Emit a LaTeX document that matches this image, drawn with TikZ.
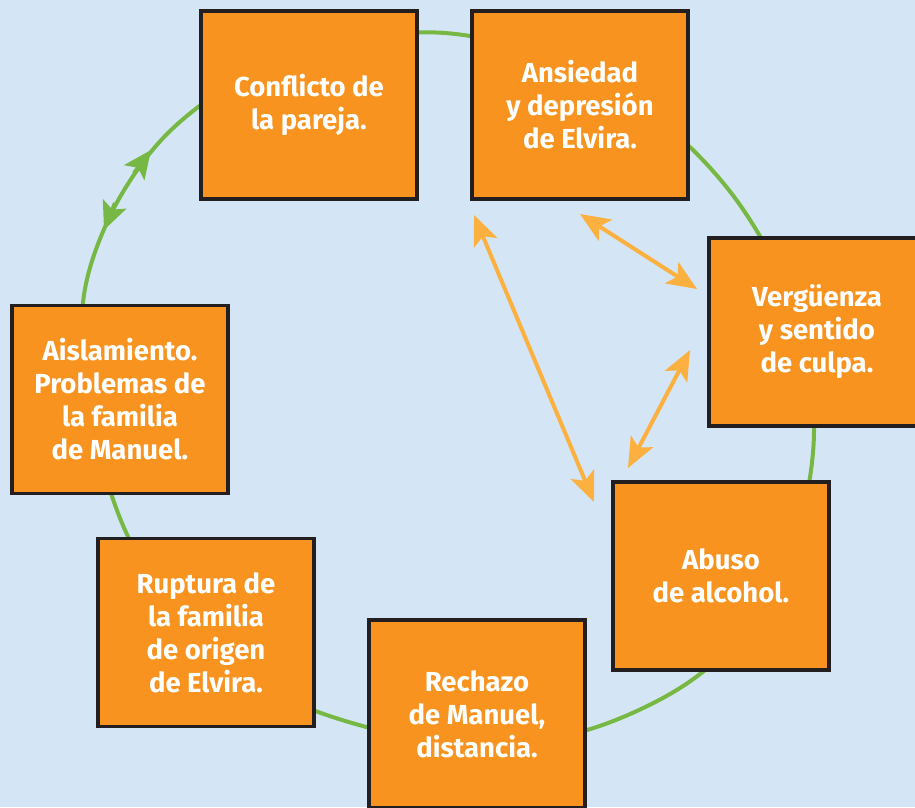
\documentclass[tikz,border=0pt]{standalone}
\usepackage{fontspec}
\setmainfont{Fira Sans}
\usetikzlibrary{arrows.meta}
\definecolor{bg}{HTML}{D4E6F5}
\definecolor{boxfill}{HTML}{F7931E}
\definecolor{boxline}{HTML}{231F20}
\definecolor{ringgreen}{HTML}{76B843}
\definecolor{link}{HTML}{FBB040}
\begin{document}
\begin{tikzpicture}[x=1pt,y=-1pt,
  stage/.style={draw=boxline, line width=3.5pt, fill=boxfill, minimum width=216pt,
    minimum height=188pt, inner sep=0pt, text=white,
    font=\fontsize{27.5}{33}\selectfont\bfseries, align=center},
  ring/.style={draw=ringgreen, line width=4pt},
  ringtip/.style={ring, -{Stealth[length=28pt,width=25pt,inset=6pt]}},
  linkarrow/.style={draw=link, line width=4pt,
    {Stealth[length=30pt,width=25pt,inset=7pt]}-{Stealth[length=30pt,width=25pt,inset=7pt]}}]
\fill[bg] (0,0) rectangle (915,807);
\useasboundingbox (0,0) rectangle (915,807);
% green cycle
\draw[ring] plot[smooth cycle, tension=0.55] coordinates {
  (83,303) (112,212) (165,136) (240,80) (340,43) (445,33) (560,60) (665,125)
  (740,205) (795,310) (814,430) (795,540) (745,630) (680,688) (587,730)
  (480,746) (370,728) (270,690) (180,615) (125,530) (92,420)};
\coordinate (gupbase) at (134,173);
\coordinate (guptip) at (151,150);
\coordinate (gdnbase) at (115,203);
\coordinate (gdntip) at (104,230);
\draw[ringtip] (gupbase) -- (guptip);
\draw[ringtip] (gdnbase) -- (gdntip);
% boxes
\node[stage] (conf) at (309,105) {Conflicto de\\la pareja.};
\node[stage] (ans) at (580,105) {Ansiedad\\y depresión\\de Elvira.};
\node[stage] (verg) at (817,332) {Vergüenza\\y sentido\\de culpa.};
\node[stage] (abuso) at (721,576) {Abuso\\de alcohol.};
\node[stage] (rech) at (477,714) {Rechazo\\de Manuel,\\distancia.};
\node[stage] (rupt) at (206,632.5) {Ruptura de\\la familia\\de origen\\de Elvira.};
\node[stage] (aisl) at (120,399.5) {Aislamiento.\\Problemas de\\la familia\\de Manuel.};
% orange links
\coordinate (a1) at (474,215);
\coordinate (b1) at (594,502);
\coordinate (a2) at (580,214);
\coordinate (b2) at (697,289);
\coordinate (a3) at (690,350);
\coordinate (b3) at (628,468);
\draw[linkarrow] (a1) -- (b1);
\draw[linkarrow] (a2) -- (b2);
\draw[linkarrow] (a3) -- (b3);
\end{tikzpicture}
\end{document}
